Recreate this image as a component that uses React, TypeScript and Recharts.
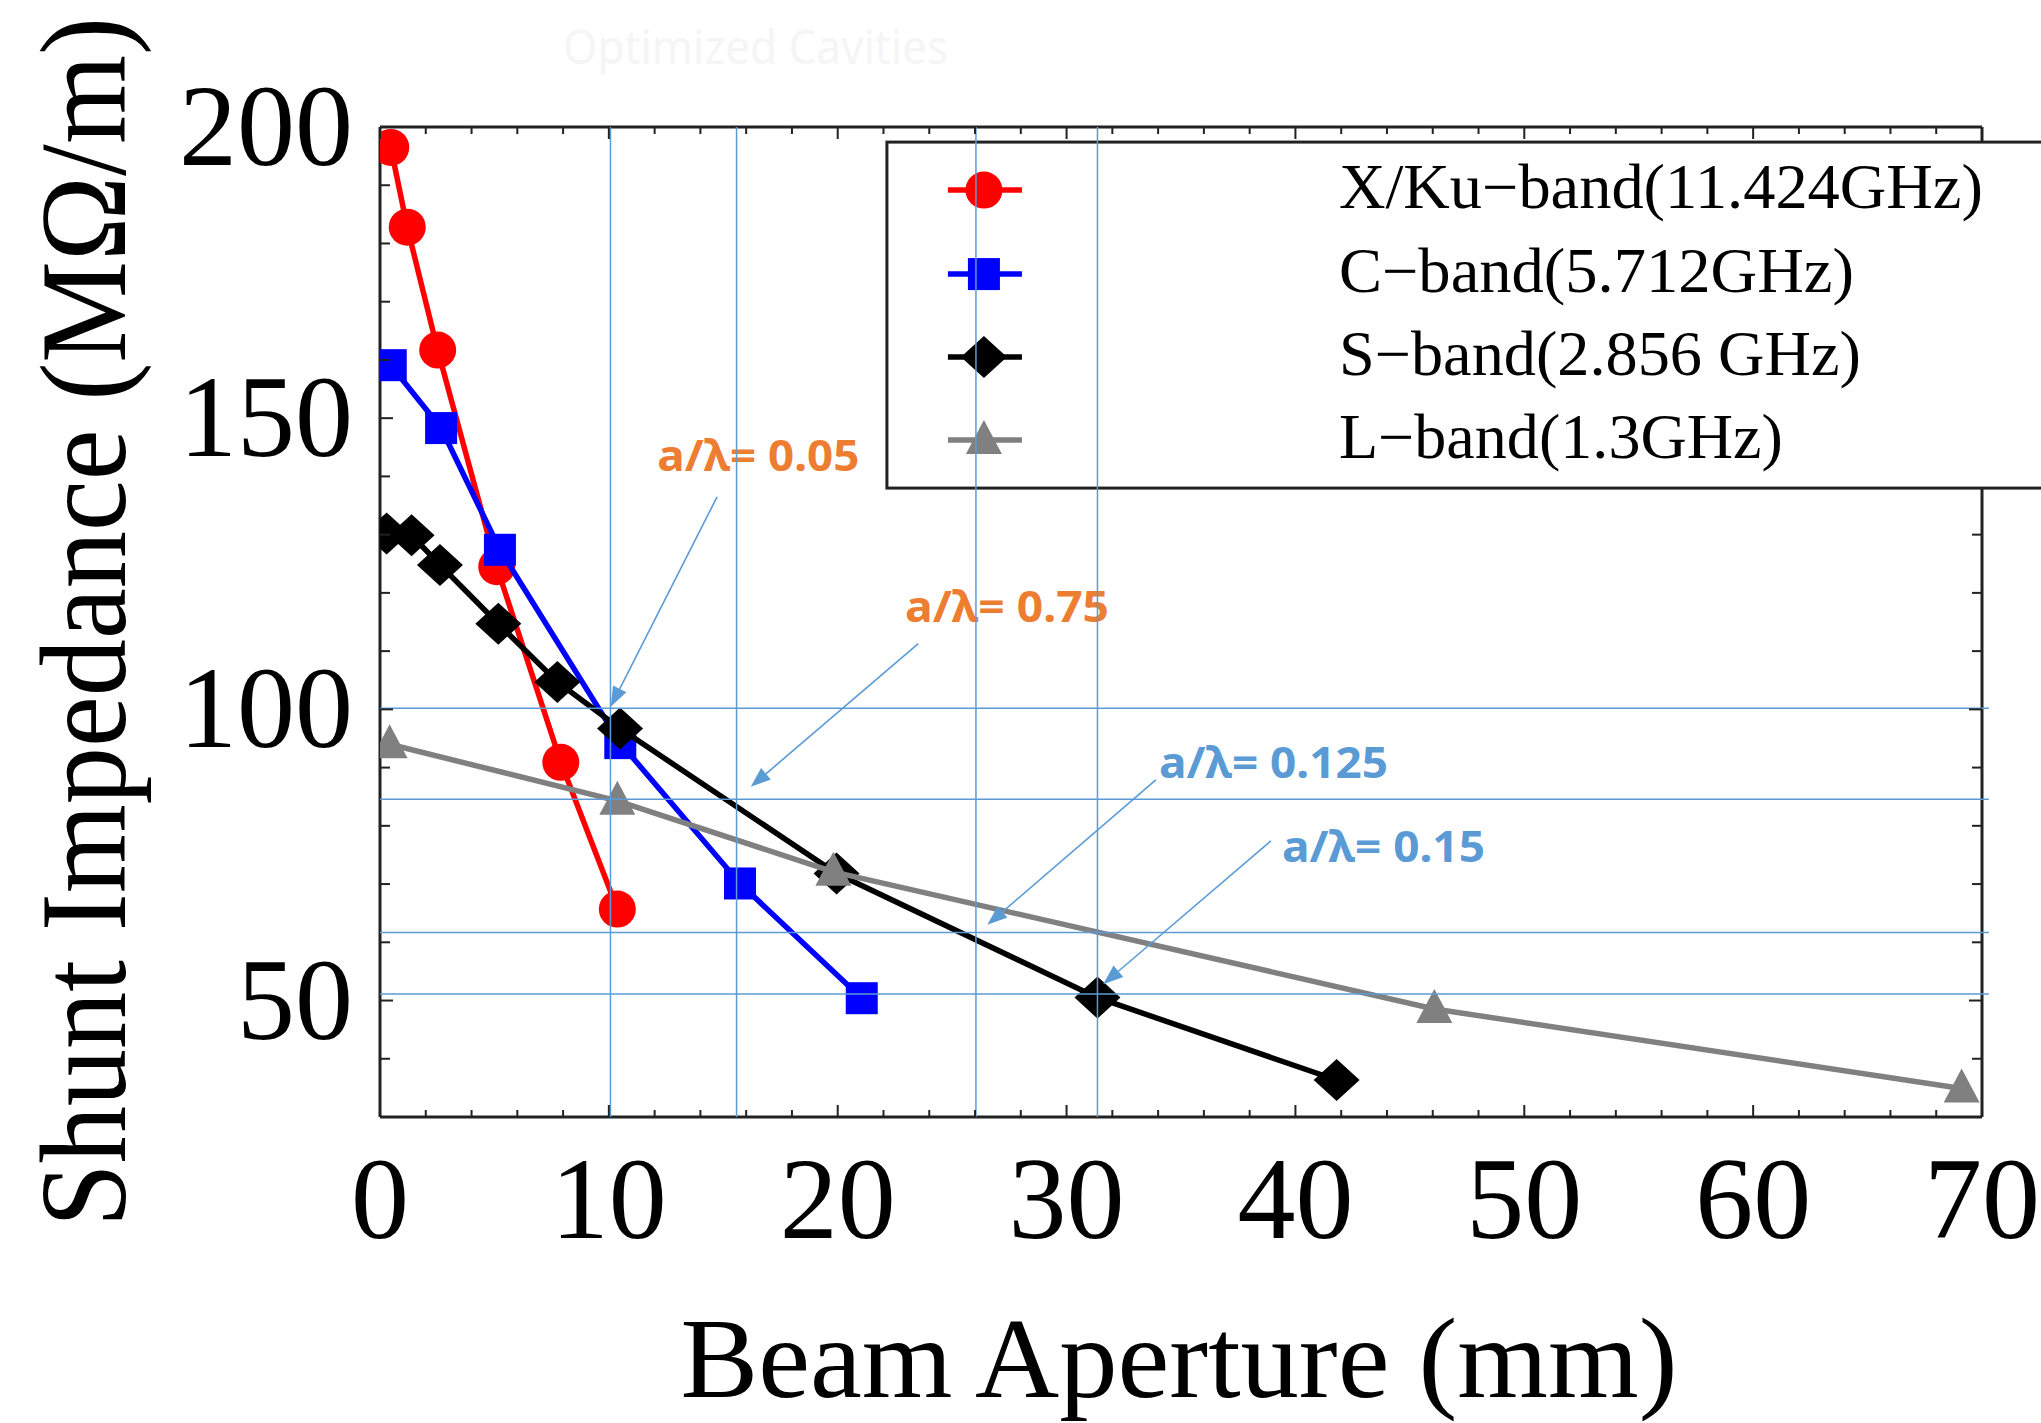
import React from 'react';
import {
  ScatterChart,
  Scatter,
  XAxis,
  YAxis,
  ReferenceLine,
  ReferenceDot,
  Label,
} from 'recharts';

// ---------------- data ----------------
const xuX = [0.47, 1.19, 2.52, 5.1, 7.9, 10.37];
const xuY = [196.5, 182.8, 161.7, 124.5, 90.9, 65.7];
const cX = [0.47, 2.67, 5.24, 10.5, 15.73, 21.05];
const cY = [159.1, 148.3, 127.4, 94.2, 70.1, 50.4];
const sX = [0.29, 1.38, 2.62, 5.17, 7.75, 10.49, 19.95, 31.35, 41.8];
const sY = [130.2, 129.9, 124.8, 114.7, 104.7, 96.7, 71.8, 50.5, 36.35];
const lX = [0.42, 10.37, 19.81, 46.07, 69.11];
const lY = [94.0, 84.3, 72.1, 48.55, 34.9];

const seriesNames = [
  'X/Ku\u2212band(11.424GHz)',
  'C\u2212band(5.712GHz)',
  'S\u2212band(2.856 GHz)',
  'L\u2212band(1.3GHz)',
];

const xTicks = [
  0, 2, 4, 6, 8, 10, 12, 14, 16, 18, 20, 22, 24, 26, 28, 30, 32, 34, 36, 38, 40,
  42, 44, 46, 48, 50, 52, 54, 56, 58, 60, 62, 64, 66, 68, 70,
];
const xTickLabels = [0, 10, 20, 30, 40, 50, 60, 70];
const yTicks = [30, 40, 50, 60, 70, 80, 90, 100, 110, 120, 130, 140, 150, 160, 170, 180, 190, 200];
const yTickLabels = [50, 100, 150, 200];

const guideX = [10.07, 15.58, 26.04, 31.35];
const guideY = [100.2, 84.55, 61.7, 51.1];

const annotTexts = ['a/\u03bb= 0.05', 'a/\u03bb= 0.75', 'a/\u03bb= 0.125', 'a/\u03bb= 0.15'];
const annotX = [12.12, 22.94, 34.04, 39.41];
const annotY = [141.0, 115.0, 88.2, 73.8];
const arrowFromX = [14.73, 23.52, 33.9, 38.93];
const arrowFromY = [136.5, 111.3, 87.9, 77.4];
const arrowToX = [10.08, 16.2, 26.54, 31.6];
const arrowToY = [100.45, 86.7, 63.0, 52.8];

const titleText = 'Optimized Cavities';

// ---------------- styles / placement ----------------
const COLORS = ['#FF0000', '#0000FF', '#000000', '#808080'];
const KINDS = ['circle', 'square', 'diamond', 'triangle'];
const ANNOT_COLORS = ['#ED7D31', '#ED7D31', '#5B9BD5', '#5B9BD5'];
const ANNOT_WIDTHS = [202, 204, 229, 203];
const LEGEND_WIDTHS = [644, 515, 522, 444];
const LEGEND_ROWS = [48, 132, 215, 298];
const LEGEND_ANCHOR = { x: 22.15, y: 197.41 };
const LEGEND_BOTTOM_Y = 138.0;
const TITLE_ANCHOR = { x: 8.0, y: 210.9 };
const GUIDE = '#5B9BD5';
const AXIS = '#222222';
const SERIF = "'Liberation Serif', 'Times New Roman', serif";
const SANS = "'Noto Sans', 'Open Sans', sans-serif";
const LINE_W = 5.5;

const toPts = (xs: number[], ys: number[]) => xs.map((x, i) => ({ x, y: ys[i] }));
const seriesData = [toPts(xuX, xuY), toPts(cX, cY), toPts(sX, sY), toPts(lX, lY)];

function Marker({ kind, cx, cy, color }: { kind: string; cx: number; cy: number; color: string }) {
  if (cx == null || cy == null) return null;
  switch (kind) {
    case 'circle':
      return <circle cx={cx} cy={cy} r={18.5} fill={color} />;
    case 'square':
      return <rect x={cx - 16} y={cy - 16} width={32} height={32} fill={color} />;
    case 'diamond':
      return (
        <polygon
          points={`${cx},${cy - 21} ${cx + 23},${cy} ${cx},${cy + 21} ${cx - 23},${cy}`}
          fill={color}
        />
      );
    default:
      return (
        <polygon points={`${cx},${cy - 20} ${cx + 18},${cy + 14} ${cx - 18},${cy + 14}`} fill={color} />
      );
  }
}

const XTickBottom = (props: any) => {
  const { x, y, payload } = props;
  const v = payload.value;
  const major = v % 10 === 0;
  return (
    <g>
      <line x1={x} x2={x} y1={y} y2={y - (major ? 12 : 7)} stroke={AXIS} strokeWidth={2} />
      {xTickLabels.includes(v) && (
        <text x={x} y={y + 121} textAnchor="middle" fontFamily={SERIF} fontSize={116} fill="#000">
          {v}
        </text>
      )}
    </g>
  );
};

const XTickTop = (props: any) => {
  const { x, y, payload } = props;
  const major = payload.value % 10 === 0;
  return <line x1={x} x2={x} y1={y} y2={y + (major ? 12 : 7)} stroke={AXIS} strokeWidth={2} />;
};

const YTickLeft = (props: any) => {
  const { x, y, payload } = props;
  const v = payload.value;
  const major = v % 50 === 0;
  return (
    <g>
      <line x1={x} x2={x + (major ? 13 : 10)} y1={y} y2={y} stroke={AXIS} strokeWidth={2} />
      {yTickLabels.includes(v) && (
        <text x={x - 27} y={y + 38} textAnchor="end" fontFamily={SERIF} fontSize={116} fill="#000">
          {v}
        </text>
      )}
    </g>
  );
};

const YTickRight = (props: any) => {
  const { x, y, payload } = props;
  const v = payload.value;
  // ticks hidden behind the legend box
  if (v > LEGEND_BOTTOM_Y && v < LEGEND_ANCHOR.y) return <g />;
  const major = v % 50 === 0;
  return <line x1={x} x2={x - (major ? 13 : 10)} y1={y} y2={y} stroke={AXIS} strokeWidth={2} />;
};

const XTitle = (props: any) => {
  const vb = props.viewBox || {};
  return (
    <text
      x={vb.x + vb.width / 2 - 2}
      y={vb.y + 280}
      textAnchor="middle"
      fontFamily={SERIF}
      fontSize={115}
      fill="#000"
      textLength={997}
      lengthAdjust="spacingAndGlyphs"
    >
      Beam Aperture (mm)
    </text>
  );
};

const YTitle = (props: any) => {
  const vb = props.viewBox || {};
  const tx = vb.x + vb.width - 255;
  const ty = vb.y + vb.height / 2;
  return (
    <text
      x={tx}
      y={ty}
      transform={`rotate(-90 ${tx} ${ty})`}
      textAnchor="middle"
      fontFamily={SERIF}
      fontSize={122}
      fill="#000"
      textLength={1210}
      lengthAdjust="spacingAndGlyphs"
    >
      Shunt Impedance (MΩ/m)
    </text>
  );
};

const makeArrow = (props: any) => {
  const { x1, y1, x2, y2 } = props;
  const dx = x2 - x1;
  const dy = y2 - y1;
  const len = Math.sqrt(dx * dx + dy * dy) || 1;
  const ux = dx / len;
  const uy = dy / len;
  const hl = 20;
  const hw = 7.5;
  const bx = x2 - ux * hl;
  const by = y2 - uy * hl;
  const px = -uy;
  const py = ux;
  return (
    <g>
      <line x1={x1} y1={y1} x2={bx} y2={by} stroke={GUIDE} strokeWidth={1.6} />
      <polygon
        points={`${x2},${y2} ${bx + px * hw},${by + py * hw} ${bx - px * hw},${by - py * hw}`}
        fill={GUIDE}
      />
    </g>
  );
};

const LegendShape = (p: any) => {
  if (p.cx == null || p.cy == null) return null;
  return (
    <g transform={`translate(${p.cx},${p.cy})`}>
      <rect x={0} y={0} width={1180} height={346} fill="#ffffff" stroke={AXIS} strokeWidth={3} />
      {seriesNames.map((name, i) => {
        const cy = LEGEND_ROWS[i];
        return (
          <g key={name}>
            <line x1={61} x2={135} y1={cy} y2={cy} stroke={COLORS[i]} strokeWidth={LINE_W} />
            <Marker kind={KINDS[i]} cx={97} cy={cy} color={COLORS[i]} />
            <text
              x={452}
              y={cy + 18}
              fontFamily={SERIF}
              fontSize={63}
              fill="#000"
              textLength={LEGEND_WIDTHS[i]}
              lengthAdjust="spacingAndGlyphs"
            >
              {name}
            </text>
          </g>
        );
      })}
    </g>
  );
};

export default function App() {
  return (
    <div
      style={{
        position: 'absolute',
        left: 0,
        top: 0,
        width: 2041,
        height: 1423,
        overflow: 'hidden',
        background: '#ffffff',
      }}
    >
      <ScatterChart
        width={2041}
        height={1423}
        margin={{ top: 126, right: 58, bottom: 305, left: 379 }}
      >
        <XAxis
          xAxisId="b"
          dataKey="x"
          type="number"
          domain={[0, 70]}
          allowDataOverflow
          ticks={xTicks}
          interval={0}
          tick={XTickBottom}
          tickLine={false}
          tickSize={0}
          tickMargin={0}
          height={1}
          axisLine={{ stroke: AXIS, strokeWidth: 3 }}
        >
          <Label content={XTitle} />
        </XAxis>
        <XAxis
          xAxisId="t"
          orientation="top"
          dataKey="x"
          type="number"
          domain={[0, 70]}
          allowDataOverflow
          ticks={xTicks}
          interval={0}
          tick={XTickTop}
          tickLine={false}
          tickSize={0}
          tickMargin={0}
          height={1}
          axisLine={{ stroke: AXIS, strokeWidth: 3 }}
        />
        <YAxis
          yAxisId="l"
          dataKey="y"
          type="number"
          domain={[30, 200]}
          allowDataOverflow
          ticks={yTicks}
          interval={0}
          tick={YTickLeft}
          tickLine={false}
          tickSize={0}
          tickMargin={0}
          width={1}
          axisLine={{ stroke: AXIS, strokeWidth: 3 }}
        >
          <Label content={YTitle} />
        </YAxis>
        <YAxis
          yAxisId="r"
          orientation="right"
          dataKey="y"
          type="number"
          domain={[30, 200]}
          allowDataOverflow
          ticks={yTicks}
          interval={0}
          tick={YTickRight}
          tickLine={false}
          tickSize={0}
          tickMargin={0}
          width={1}
          axisLine={{ stroke: AXIS, strokeWidth: 3 }}
        />

        <ReferenceDot
          xAxisId="b"
          yAxisId="l"
          x={TITLE_ANCHOR.x}
          y={TITLE_ANCHOR.y}
          r={0}
          ifOverflow="visible"
          shape={(p: any) => (
            <text
              x={p.cx}
              y={p.cy}
              fontFamily={SANS}
              fontSize={48}
              fill="#F5F5F5"
              textLength={385}
              lengthAdjust="spacingAndGlyphs"
            >
              {titleText}
            </text>
          )}
        />

        {seriesData.map((data, i) => (
          <Scatter
            key={seriesNames[i]}
            name={seriesNames[i]}
            data={data}
            xAxisId="b"
            yAxisId="l"
            fill={COLORS[i]}
            line={{ stroke: COLORS[i], strokeWidth: LINE_W }}
            lineType="joint"
            isAnimationActive={false}
            shape={(p: any) => <Marker kind={KINDS[i]} cx={p.cx} cy={p.cy} color={COLORS[i]} />}
          />
        ))}

        <ReferenceDot
          xAxisId="b"
          yAxisId="l"
          x={LEGEND_ANCHOR.x}
          y={LEGEND_ANCHOR.y}
          r={0}
          ifOverflow="visible"
          zIndex={650}
          shape={LegendShape}
        />

        {annotTexts.map((t, i) => (
          <ReferenceDot
            key={t}
            xAxisId="b"
            yAxisId="l"
            x={annotX[i]}
            y={annotY[i]}
            r={0}
            ifOverflow="visible"
            zIndex={660}
            shape={(p: any) => (
              <text
                x={p.cx}
                y={p.cy}
                fontFamily={SANS}
                fontWeight={700}
                fontSize={43}
                fill={ANNOT_COLORS[i]}
                textLength={ANNOT_WIDTHS[i]}
                lengthAdjust="spacingAndGlyphs"
              >
                {t}
              </text>
            )}
          />
        ))}

        {guideX.map((v) => (
          <ReferenceLine
            key={`gx${v}`}
            xAxisId="b"
            yAxisId="l"
            x={v}
            zIndex={700}
            stroke={GUIDE}
            strokeWidth={1.5}
          />
        ))}
        {guideY.map((v) => (
          <ReferenceLine
            key={`gy${v}`}
            xAxisId="b"
            yAxisId="l"
            segment={[
              { x: 0, y: v },
              { x: 70.3, y: v },
            ]}
            ifOverflow="visible"
            zIndex={700}
            stroke={GUIDE}
            strokeWidth={1.5}
          />
        ))}
        {arrowFromX.map((fx, i) => (
          <ReferenceLine
            key={`ar${i}`}
            xAxisId="b"
            yAxisId="l"
            segment={[
              { x: fx, y: arrowFromY[i] },
              { x: arrowToX[i], y: arrowToY[i] },
            ]}
            ifOverflow="visible"
            zIndex={700}
            shape={makeArrow}
          />
        ))}
      </ScatterChart>
    </div>
  );
}
